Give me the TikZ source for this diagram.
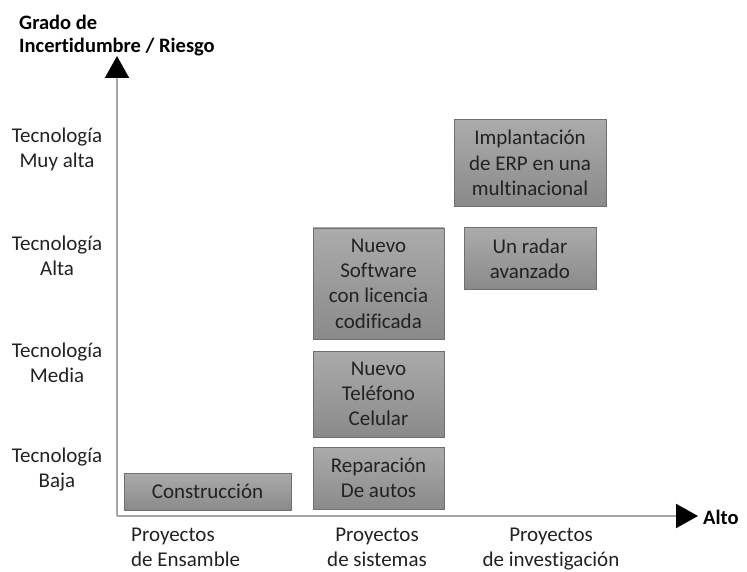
\documentclass[tikz,border=0pt]{standalone}
\usepackage{fontspec}
\setmainfont[Ligatures={NoCommon}]{Carlito}
\usetikzlibrary{arrows.meta}
\definecolor{axisgray}{HTML}{A6A6A6}
\definecolor{boxtop}{HTML}{ABABAB}
\definecolor{boxbot}{HTML}{8A8A8A}
\definecolor{boxline}{HTML}{707070}
\definecolor{txt}{HTML}{222222}
\begin{document}
\begin{tikzpicture}[x=1pt,y=-1pt,
  every node/.style={inner sep=0pt, text=txt},
  lbl/.style={font=\fontsize{21}{25}\selectfont, align=center},
  bold/.style={font=\fontsize{20.5}{23}\selectfont\bfseries, text=black},
  gbox/.style={draw=boxline, line width=0.8pt, top color=boxtop, bottom color=boxbot,
    font=\fontsize{21}{25.3}\selectfont, align=center},
  axis/.style={draw=axisgray, line width=2pt,
    -{Triangle[length=22pt,width=24pt,color=black]}}
]
\path[use as bounding box] (0,0) rectangle (747,572);

% axes
\coordinate (o) at (117,516);
\coordinate (ytip) at (117,56);
\coordinate (xtip) at (698,516);
\draw[axis] (o) -- (ytip);
\draw[axis] (o) -- (xtip);

% axis titles
\node[bold, anchor=base west, align=left] (ytitle) at (19,53) {Grado de\\Incertidumbre / Riesgo};
\node[bold, anchor=west] (xtitle) at (703,517) {Alto};

% y labels
\node[lbl] (muy) at (57,149) {Tecnología\\Muy alta};
\node[lbl] (alta) at (57,256) {Tecnología\\Alta};
\node[lbl] (media) at (57,363) {Tecnología\\Media};
\node[lbl] (baja) at (57,470) {Tecnología\\Baja};

% x labels
\node[lbl, align=left, anchor=base west] (ens) at (131,566) {Proyectos\\de Ensamble};
\node[lbl, anchor=base] (sis) at (377,566) {Proyectos\\de sistemas};
\node[lbl, anchor=base] (inv) at (551,566) {Proyectos\hspace{10pt}\\de investigación};

% boxes
\node[gbox, minimum width=167pt, minimum height=37pt] (constr) at (207.5,491.5) {Construcción};
\node[gbox, minimum width=131pt, minimum height=62pt] (rep) at (378.5,478) {Reparación\\De autos};
\node[gbox, minimum width=131pt, minimum height=86pt] (tel) at (378.5,394) {Nuevo\\Teléfono\\Celular};
\node[gbox, minimum width=131pt, minimum height=111pt] (soft) at (378.5,283.5) {Nuevo\\Software\\con licencia\\codificada};
\node[gbox, minimum width=132pt, minimum height=62pt] (radar) at (530,258.5) {Un radar\\avanzado};
\node[gbox, minimum width=152pt, minimum height=87pt] (erp) at (530,163) {Implantación\\de ERP en una\\multinacional};
\end{tikzpicture}
\end{document}
